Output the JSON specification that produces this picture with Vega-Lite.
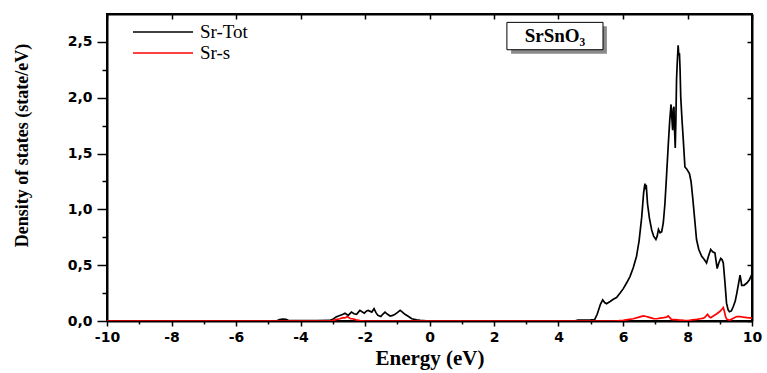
{
  "$schema": "https://vega.github.io/schema/vega-lite/v6.json",
  "width": 645,
  "height": 307,
  "autosize": "none",
  "padding": {"left": 107, "top": 14, "right": 15, "bottom": 52},
  "background": "white",
  "config": {
    "view": {"stroke": "black", "strokeWidth": 2},
    "axis": {
      "grid": false,
      "domainColor": "black",
      "domainWidth": 2,
      "tickColor": "black",
      "tickWidth": 1.5,
      "labelColor": "black",
      "labelFont": "DejaVu Sans",
      "labelFontWeight": "bold",
      "labelFontSize": 14,
      "labelFlush": false,
      "labelOverlap": false,
      "titleColor": "black",
      "titleFont": "Liberation Serif",
      "titleFontWeight": "bold"
    }
  },
  "layer": [
    {
      "data": {
        "values": [
          {"E": -10, "dos": 0, "s": "Sr-Tot"},
          {"E": -4.75, "dos": 0, "s": "Sr-Tot"},
          {"E": -4.65, "dos": 0.012, "s": "Sr-Tot"},
          {"E": -4.55, "dos": 0.016, "s": "Sr-Tot"},
          {"E": -4.45, "dos": 0.015, "s": "Sr-Tot"},
          {"E": -4.38, "dos": 0.006, "s": "Sr-Tot"},
          {"E": -4.2, "dos": 0.004, "s": "Sr-Tot"},
          {"E": -3.5, "dos": 0.004, "s": "Sr-Tot"},
          {"E": -3.1, "dos": 0.005, "s": "Sr-Tot"},
          {"E": -3.0, "dos": 0.015, "s": "Sr-Tot"},
          {"E": -2.9, "dos": 0.035, "s": "Sr-Tot"},
          {"E": -2.78, "dos": 0.05, "s": "Sr-Tot"},
          {"E": -2.68, "dos": 0.06, "s": "Sr-Tot"},
          {"E": -2.62, "dos": 0.07, "s": "Sr-Tot"},
          {"E": -2.52, "dos": 0.05, "s": "Sr-Tot"},
          {"E": -2.42, "dos": 0.08, "s": "Sr-Tot"},
          {"E": -2.34, "dos": 0.065, "s": "Sr-Tot"},
          {"E": -2.26, "dos": 0.06, "s": "Sr-Tot"},
          {"E": -2.16, "dos": 0.095, "s": "Sr-Tot"},
          {"E": -2.08, "dos": 0.08, "s": "Sr-Tot"},
          {"E": -2.02, "dos": 0.07, "s": "Sr-Tot"},
          {"E": -1.95, "dos": 0.09, "s": "Sr-Tot"},
          {"E": -1.9, "dos": 0.095, "s": "Sr-Tot"},
          {"E": -1.79, "dos": 0.08, "s": "Sr-Tot"},
          {"E": -1.72, "dos": 0.11, "s": "Sr-Tot"},
          {"E": -1.66, "dos": 0.075, "s": "Sr-Tot"},
          {"E": -1.6, "dos": 0.05, "s": "Sr-Tot"},
          {"E": -1.51, "dos": 0.04, "s": "Sr-Tot"},
          {"E": -1.45, "dos": 0.06, "s": "Sr-Tot"},
          {"E": -1.38, "dos": 0.08, "s": "Sr-Tot"},
          {"E": -1.3, "dos": 0.06, "s": "Sr-Tot"},
          {"E": -1.22, "dos": 0.045, "s": "Sr-Tot"},
          {"E": -1.14, "dos": 0.05, "s": "Sr-Tot"},
          {"E": -1.07, "dos": 0.06, "s": "Sr-Tot"},
          {"E": -0.98, "dos": 0.08, "s": "Sr-Tot"},
          {"E": -0.91, "dos": 0.095, "s": "Sr-Tot"},
          {"E": -0.84, "dos": 0.08, "s": "Sr-Tot"},
          {"E": -0.76, "dos": 0.06, "s": "Sr-Tot"},
          {"E": -0.65, "dos": 0.04, "s": "Sr-Tot"},
          {"E": -0.55, "dos": 0.02, "s": "Sr-Tot"},
          {"E": -0.4, "dos": 0.01, "s": "Sr-Tot"},
          {"E": -0.29, "dos": 0.005, "s": "Sr-Tot"},
          {"E": -0.1, "dos": 0.002, "s": "Sr-Tot"},
          {"E": 0, "dos": 0, "s": "Sr-Tot"},
          {"E": 4.5, "dos": 0, "s": "Sr-Tot"},
          {"E": 4.6, "dos": 0.008, "s": "Sr-Tot"},
          {"E": 5.0, "dos": 0.01, "s": "Sr-Tot"},
          {"E": 5.12, "dos": 0.012, "s": "Sr-Tot"},
          {"E": 5.2, "dos": 0.06, "s": "Sr-Tot"},
          {"E": 5.3, "dos": 0.15, "s": "Sr-Tot"},
          {"E": 5.37, "dos": 0.19, "s": "Sr-Tot"},
          {"E": 5.43, "dos": 0.165, "s": "Sr-Tot"},
          {"E": 5.49, "dos": 0.155, "s": "Sr-Tot"},
          {"E": 5.6, "dos": 0.175, "s": "Sr-Tot"},
          {"E": 5.7, "dos": 0.195, "s": "Sr-Tot"},
          {"E": 5.8, "dos": 0.21, "s": "Sr-Tot"},
          {"E": 5.91, "dos": 0.25, "s": "Sr-Tot"},
          {"E": 6.01, "dos": 0.29, "s": "Sr-Tot"},
          {"E": 6.11, "dos": 0.34, "s": "Sr-Tot"},
          {"E": 6.22, "dos": 0.4, "s": "Sr-Tot"},
          {"E": 6.32, "dos": 0.48, "s": "Sr-Tot"},
          {"E": 6.42, "dos": 0.58, "s": "Sr-Tot"},
          {"E": 6.5, "dos": 0.72, "s": "Sr-Tot"},
          {"E": 6.58, "dos": 0.93, "s": "Sr-Tot"},
          {"E": 6.64, "dos": 1.15, "s": "Sr-Tot"},
          {"E": 6.68, "dos": 1.23, "s": "Sr-Tot"},
          {"E": 6.7, "dos": 1.18, "s": "Sr-Tot"},
          {"E": 6.72, "dos": 1.22, "s": "Sr-Tot"},
          {"E": 6.76, "dos": 1.05, "s": "Sr-Tot"},
          {"E": 6.82, "dos": 0.92, "s": "Sr-Tot"},
          {"E": 6.89, "dos": 0.815, "s": "Sr-Tot"},
          {"E": 6.95, "dos": 0.76, "s": "Sr-Tot"},
          {"E": 7.02, "dos": 0.73, "s": "Sr-Tot"},
          {"E": 7.06, "dos": 0.76, "s": "Sr-Tot"},
          {"E": 7.1, "dos": 0.82, "s": "Sr-Tot"},
          {"E": 7.15, "dos": 0.79, "s": "Sr-Tot"},
          {"E": 7.2, "dos": 0.8, "s": "Sr-Tot"},
          {"E": 7.25, "dos": 0.88, "s": "Sr-Tot"},
          {"E": 7.3, "dos": 1.05, "s": "Sr-Tot"},
          {"E": 7.35, "dos": 1.3, "s": "Sr-Tot"},
          {"E": 7.4, "dos": 1.56, "s": "Sr-Tot"},
          {"E": 7.45, "dos": 1.8, "s": "Sr-Tot"},
          {"E": 7.49, "dos": 1.94, "s": "Sr-Tot"},
          {"E": 7.51, "dos": 1.84, "s": "Sr-Tot"},
          {"E": 7.54, "dos": 1.71, "s": "Sr-Tot"},
          {"E": 7.56, "dos": 1.9, "s": "Sr-Tot"},
          {"E": 7.58, "dos": 1.92, "s": "Sr-Tot"},
          {"E": 7.6, "dos": 1.7, "s": "Sr-Tot"},
          {"E": 7.62, "dos": 1.55, "s": "Sr-Tot"},
          {"E": 7.64, "dos": 1.8, "s": "Sr-Tot"},
          {"E": 7.66, "dos": 2.16, "s": "Sr-Tot"},
          {"E": 7.68, "dos": 2.3, "s": "Sr-Tot"},
          {"E": 7.71, "dos": 2.47, "s": "Sr-Tot"},
          {"E": 7.73, "dos": 2.38, "s": "Sr-Tot"},
          {"E": 7.75, "dos": 2.4, "s": "Sr-Tot"},
          {"E": 7.77, "dos": 2.25, "s": "Sr-Tot"},
          {"E": 7.79, "dos": 2.01, "s": "Sr-Tot"},
          {"E": 7.83, "dos": 1.8, "s": "Sr-Tot"},
          {"E": 7.87, "dos": 1.62, "s": "Sr-Tot"},
          {"E": 7.92, "dos": 1.38, "s": "Sr-Tot"},
          {"E": 7.98, "dos": 1.36, "s": "Sr-Tot"},
          {"E": 8.06, "dos": 1.32, "s": "Sr-Tot"},
          {"E": 8.11, "dos": 1.25, "s": "Sr-Tot"},
          {"E": 8.16, "dos": 1.11, "s": "Sr-Tot"},
          {"E": 8.22, "dos": 0.92, "s": "Sr-Tot"},
          {"E": 8.28, "dos": 0.73, "s": "Sr-Tot"},
          {"E": 8.35, "dos": 0.64, "s": "Sr-Tot"},
          {"E": 8.44, "dos": 0.58, "s": "Sr-Tot"},
          {"E": 8.52, "dos": 0.55, "s": "Sr-Tot"},
          {"E": 8.59, "dos": 0.52, "s": "Sr-Tot"},
          {"E": 8.65, "dos": 0.58, "s": "Sr-Tot"},
          {"E": 8.72, "dos": 0.64, "s": "Sr-Tot"},
          {"E": 8.78, "dos": 0.62, "s": "Sr-Tot"},
          {"E": 8.85, "dos": 0.61, "s": "Sr-Tot"},
          {"E": 8.88, "dos": 0.55, "s": "Sr-Tot"},
          {"E": 8.92, "dos": 0.47, "s": "Sr-Tot"},
          {"E": 8.97, "dos": 0.52, "s": "Sr-Tot"},
          {"E": 9.03, "dos": 0.56, "s": "Sr-Tot"},
          {"E": 9.07, "dos": 0.55, "s": "Sr-Tot"},
          {"E": 9.11, "dos": 0.52, "s": "Sr-Tot"},
          {"E": 9.16, "dos": 0.35, "s": "Sr-Tot"},
          {"E": 9.21, "dos": 0.16, "s": "Sr-Tot"},
          {"E": 9.26, "dos": 0.1, "s": "Sr-Tot"},
          {"E": 9.3, "dos": 0.083, "s": "Sr-Tot"},
          {"E": 9.36, "dos": 0.09, "s": "Sr-Tot"},
          {"E": 9.42, "dos": 0.13, "s": "Sr-Tot"},
          {"E": 9.48, "dos": 0.18, "s": "Sr-Tot"},
          {"E": 9.53, "dos": 0.25, "s": "Sr-Tot"},
          {"E": 9.58, "dos": 0.33, "s": "Sr-Tot"},
          {"E": 9.63, "dos": 0.41, "s": "Sr-Tot"},
          {"E": 9.66, "dos": 0.36, "s": "Sr-Tot"},
          {"E": 9.68, "dos": 0.32, "s": "Sr-Tot"},
          {"E": 9.75, "dos": 0.32, "s": "Sr-Tot"},
          {"E": 9.84, "dos": 0.34, "s": "Sr-Tot"},
          {"E": 9.92, "dos": 0.37, "s": "Sr-Tot"},
          {"E": 10, "dos": 0.42, "s": "Sr-Tot"},
          {"E": -10, "dos": 0, "s": "Sr-s"},
          {"E": -3.1, "dos": 0, "s": "Sr-s"},
          {"E": -3.0, "dos": 0.003, "s": "Sr-s"},
          {"E": -2.9, "dos": 0.012, "s": "Sr-s"},
          {"E": -2.78, "dos": 0.02, "s": "Sr-s"},
          {"E": -2.68, "dos": 0.03, "s": "Sr-s"},
          {"E": -2.62, "dos": 0.028, "s": "Sr-s"},
          {"E": -2.55, "dos": 0.04, "s": "Sr-s"},
          {"E": -2.5, "dos": 0.03, "s": "Sr-s"},
          {"E": -2.45, "dos": 0.02, "s": "Sr-s"},
          {"E": -2.38, "dos": 0.02, "s": "Sr-s"},
          {"E": -2.28, "dos": 0.01, "s": "Sr-s"},
          {"E": -2.16, "dos": 0.004, "s": "Sr-s"},
          {"E": -2.0, "dos": 0, "s": "Sr-s"},
          {"E": 5.8, "dos": 0, "s": "Sr-s"},
          {"E": 5.9, "dos": 0.003, "s": "Sr-s"},
          {"E": 6.01, "dos": 0.005, "s": "Sr-s"},
          {"E": 6.15, "dos": 0.012, "s": "Sr-s"},
          {"E": 6.32, "dos": 0.02, "s": "Sr-s"},
          {"E": 6.5, "dos": 0.035, "s": "Sr-s"},
          {"E": 6.63, "dos": 0.045, "s": "Sr-s"},
          {"E": 6.72, "dos": 0.04, "s": "Sr-s"},
          {"E": 6.79, "dos": 0.035, "s": "Sr-s"},
          {"E": 6.95, "dos": 0.022, "s": "Sr-s"},
          {"E": 7.05, "dos": 0.02, "s": "Sr-s"},
          {"E": 7.15, "dos": 0.025, "s": "Sr-s"},
          {"E": 7.26, "dos": 0.03, "s": "Sr-s"},
          {"E": 7.35, "dos": 0.035, "s": "Sr-s"},
          {"E": 7.4, "dos": 0.045, "s": "Sr-s"},
          {"E": 7.45, "dos": 0.03, "s": "Sr-s"},
          {"E": 7.5, "dos": 0.015, "s": "Sr-s"},
          {"E": 7.6, "dos": 0.012, "s": "Sr-s"},
          {"E": 7.76, "dos": 0.008, "s": "Sr-s"},
          {"E": 7.9, "dos": 0.005, "s": "Sr-s"},
          {"E": 8.03, "dos": 0.004, "s": "Sr-s"},
          {"E": 8.15, "dos": 0.01, "s": "Sr-s"},
          {"E": 8.29, "dos": 0.015, "s": "Sr-s"},
          {"E": 8.4, "dos": 0.02, "s": "Sr-s"},
          {"E": 8.5, "dos": 0.025, "s": "Sr-s"},
          {"E": 8.56, "dos": 0.04, "s": "Sr-s"},
          {"E": 8.62, "dos": 0.06, "s": "Sr-s"},
          {"E": 8.67, "dos": 0.04, "s": "Sr-s"},
          {"E": 8.72, "dos": 0.03, "s": "Sr-s"},
          {"E": 8.8, "dos": 0.045, "s": "Sr-s"},
          {"E": 8.91, "dos": 0.065, "s": "Sr-s"},
          {"E": 9.0, "dos": 0.085, "s": "Sr-s"},
          {"E": 9.08, "dos": 0.11, "s": "Sr-s"},
          {"E": 9.11, "dos": 0.12, "s": "Sr-s"},
          {"E": 9.14, "dos": 0.09, "s": "Sr-s"},
          {"E": 9.18, "dos": 0.04, "s": "Sr-s"},
          {"E": 9.21, "dos": 0.018, "s": "Sr-s"},
          {"E": 9.27, "dos": 0.01, "s": "Sr-s"},
          {"E": 9.32, "dos": 0.008, "s": "Sr-s"},
          {"E": 9.42, "dos": 0.025, "s": "Sr-s"},
          {"E": 9.53, "dos": 0.04, "s": "Sr-s"},
          {"E": 9.63, "dos": 0.04, "s": "Sr-s"},
          {"E": 9.73, "dos": 0.035, "s": "Sr-s"},
          {"E": 9.85, "dos": 0.03, "s": "Sr-s"},
          {"E": 10, "dos": 0.025, "s": "Sr-s"}
        ]
      },
      "mark": {"type": "line", "strokeWidth": 1.7, "clip": true},
      "encoding": {
        "x": {
          "field": "E",
          "type": "quantitative",
          "scale": {"domain": [-10, 10], "nice": false},
          "axis": {
            "orient": "bottom",
            "values": [-10, -9, -8, -7, -6, -5, -4, -3, -2, -1, 0, 1, 2, 3, 4, 5, 6, 7, 8, 9, 10],
            "labelExpr": "datum.value % 2 == 0 ? '' + datum.value : ''",
            "tickSize": {"condition": {"test": "datum.value % 2 == 0", "value": 5}, "value": 3},
            "labelPadding": 4,
            "title": "Energy (eV)",
            "titleFontSize": 21,
            "titleY": 43,
            "titleBaseline": "alphabetic"
          }
        },
        "y": {
          "field": "dos",
          "type": "quantitative",
          "scale": {"domain": [0, 2.75], "nice": false},
          "axis": {
            "orient": "left",
            "values": [0, 0.25, 0.5, 0.75, 1, 1.25, 1.5, 1.75, 2, 2.25, 2.5],
            "labelExpr": "datum.value % 0.5 == 0 ? replace(format(datum.value, '.1f'), '.', ',') : ''",
            "tickSize": {"condition": {"test": "datum.value % 0.5 == 0", "value": 10}, "value": 5},
            "labelPadding": 5,
            "title": "Density of states (state/eV)",
            "titleFontSize": 18,
            "titleX": -80,
            "titleY": 131,
            "titleBaseline": "alphabetic"
          }
        },
        "color": {
          "field": "s",
          "type": "nominal",
          "scale": {"domain": ["Sr-Tot", "Sr-s"], "range": ["#000000", "#ff0000"]},
          "legend": {
            "title": null,
            "orient": "none",
            "legendX": 45,
            "legendY": 7,
            "padding": 0,
            "symbolType": "M-3,0H3",
            "symbolSize": 400,
            "symbolStrokeWidth": 1.5,
            "rowPadding": 0,
            "labelFont": "Liberation Serif",
            "labelFontSize": 19,
            "labelColor": "black",
            "labelOffset": 26
          }
        }
      }
    },
    {
      "data": {"values": [{"label": "SrSnO₃"}]},
      "layer": [
        {
          "mark": {"type": "rect", "fill": "#8a8a8a"},
          "encoding": {
            "x": {
              "datum": 2.53,
              "type": "quantitative",
              "scale": {"domain": [-10, 10], "nice": false},
              "axis": {
                "orient": "top",
                "values": [-10, -9, -8, -7, -6, -5, -4, -3, -2, -1, 0, 1, 2, 3, 4, 5, 6, 7, 8, 9, 10],
                "labels": false,
                "title": null,
                "tickSize": {"condition": {"test": "datum.value % 2 == 0", "value": -5}, "value": -3}
              }
            },
            "x2": {"datum": 5.5},
            "y": {
              "datum": 2.395,
              "type": "quantitative",
              "scale": {"domain": [0, 2.75], "nice": false},
              "axis": {
                "orient": "right",
                "values": [0, 0.25, 0.5, 0.75, 1, 1.25, 1.5, 1.75, 2, 2.25, 2.5],
                "labels": false,
                "title": null,
                "tickSize": -5
              }
            },
            "y2": {"datum": 2.64}
          }
        },
        {
          "mark": {"type": "rect", "fill": "white", "stroke": "black", "strokeWidth": 1},
          "encoding": {
            "x": {"datum": 2.4, "type": "quantitative"},
            "x2": {"datum": 5.38},
            "y": {"datum": 2.43, "type": "quantitative"},
            "y2": {"datum": 2.675}
          }
        },
        {
          "mark": {"type": "text", "font": "Liberation Serif", "fontWeight": "bold", "fontSize": 19, "color": "black", "align": "center", "baseline": "middle"},
          "encoding": {
            "x": {"datum": 3.89, "type": "quantitative"},
            "y": {"datum": 2.55, "type": "quantitative"},
            "text": {"field": "label"}
          }
        }
      ]
    }
  ],
  "resolve": {"axis": {"x": "independent", "y": "independent"}}
}
